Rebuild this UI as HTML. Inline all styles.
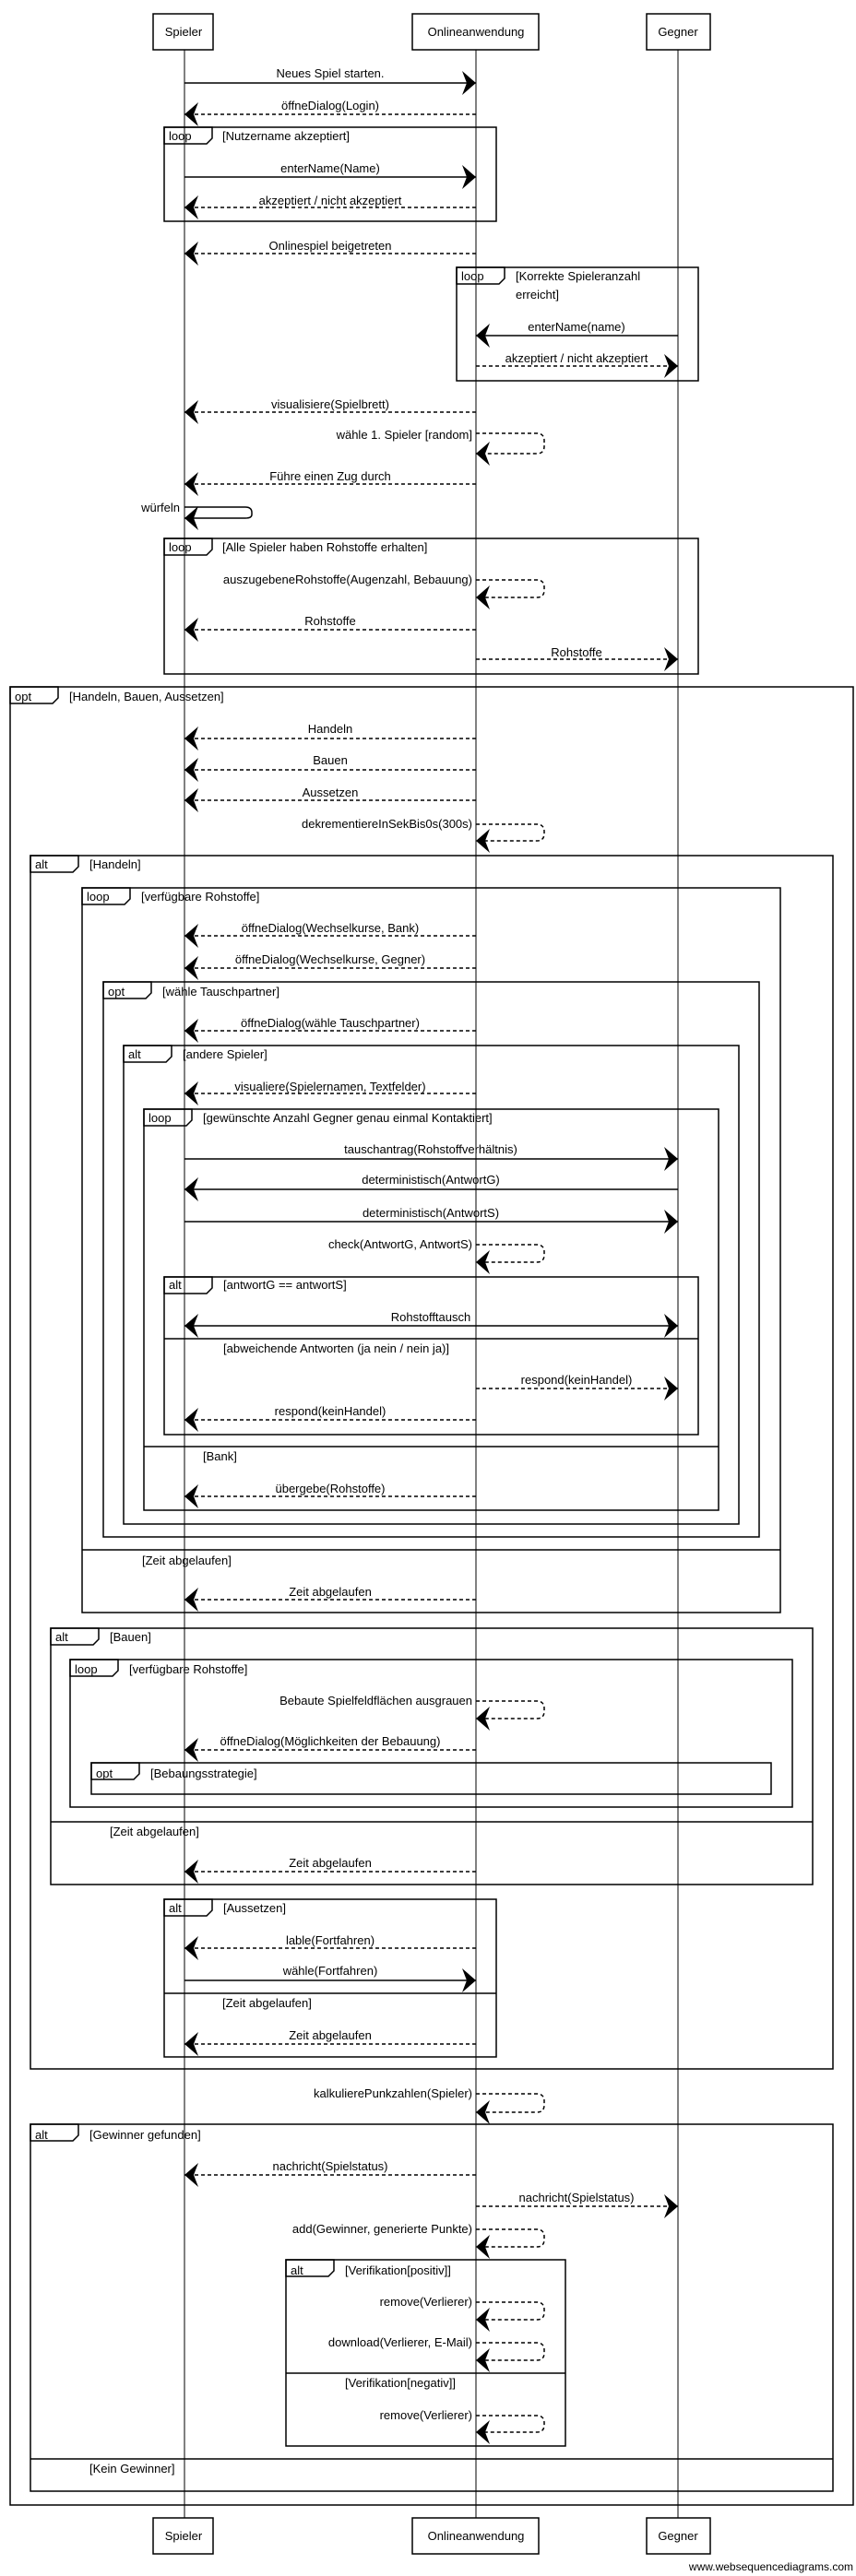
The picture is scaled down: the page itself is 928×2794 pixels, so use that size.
<!DOCTYPE html>
<html><head><meta charset="utf-8"><style>
html,body{margin:0;padding:0;background:#fff}
svg{display:block}
text{font-family:"Liberation Sans",Arial,sans-serif;font-size:13px;fill:#000}
.m{text-anchor:middle}.e{text-anchor:end}
.f{fill:none;stroke:#000;stroke-width:1.5}
.l{stroke:#000;stroke-width:1.5;fill:none}
.d{stroke:#000;stroke-width:1.5;fill:none;stroke-dasharray:4,3}
.ll{stroke:#000;stroke-width:1}
</style></head><body>
<svg width="928" height="2794" viewBox="0 0 928 2794" xmlns="http://www.w3.org/2000/svg">
<defs>
<marker id="h" markerUnits="userSpaceOnUse" viewBox="-18 -14 20 28" refX="0" refY="0" markerWidth="20" markerHeight="28" orient="auto-start-reverse">
<path d="M0,0 L-15,-13 L-10,0 L-15,13 Z" fill="#000"/>
</marker>
</defs>
<!-- lifelines -->
<line class="ll" x1="200" y1="54" x2="200" y2="2731"/>
<line class="ll" x1="516" y1="54" x2="516" y2="2731"/>
<line class="ll" x1="735" y1="54" x2="735" y2="2731"/>
<!-- heads -->
<rect class="f" x="166" y="15" width="65" height="39" fill="#fff"/><text class="m" x="199" y="39">Spieler</text>
<rect class="f" x="447" y="15" width="137" height="39" fill="#fff"/><text class="m" x="516" y="39">Onlineanwendung</text>
<rect class="f" x="701" y="15" width="69" height="39" fill="#fff"/><text class="m" x="735" y="39">Gegner</text>
<rect class="f" x="166" y="2731" width="65" height="39" fill="#fff"/><text class="m" x="199" y="2755">Spieler</text>
<rect class="f" x="447" y="2731" width="137" height="39" fill="#fff"/><text class="m" x="516" y="2755">Onlineanwendung</text>
<rect class="f" x="701" y="2731" width="69" height="39" fill="#fff"/><text class="m" x="735" y="2755">Gegner</text>
<text class="e" x="925" y="2788" style="font-size:12px">www.websequencediagrams.com</text>

<!-- frames -->
<g>
<rect class="f" x="178" y="138" width="360" height="102"/><path class="f" d="M178,138h52v12l-6,6h-46z"/><text x="183" y="152">loop</text><text x="241" y="152">[Nutzername akzeptiert]</text>
<rect class="f" x="495" y="290" width="262" height="123"/><path class="f" d="M495,290h52v12l-6,6h-46z"/><text x="500" y="304">loop</text><text x="559" y="304">[Korrekte Spieleranzahl</text><text x="559" y="324">erreicht]</text>
<rect class="f" x="178" y="584" width="579" height="147"/><path class="f" d="M178,584h52v12l-6,6h-46z"/><text x="183" y="598">loop</text><text x="241" y="598">[Alle Spieler haben Rohstoffe erhalten]</text>
<rect class="f" x="11" y="745" width="914" height="1972"/><path class="f" d="M11,745h52v12l-6,6h-46z"/><text x="16" y="760">opt</text><text x="75" y="760">[Handeln, Bauen, Aussetzen]</text>
<rect class="f" x="33" y="928" width="870" height="1316"/><path class="f" d="M33,928h52v12l-6,6h-46z"/><text x="38" y="942">alt</text><text x="97" y="942">[Handeln]</text>
<rect class="f" x="89" y="963" width="757" height="786"/><path class="f" d="M89,963h52v12l-6,6h-46z"/><text x="94" y="977">loop</text><text x="153" y="977">[verfügbare Rohstoffe]</text>
<line class="l" x1="89" y1="1681" x2="846" y2="1681"/><text x="154" y="1697">[Zeit abgelaufen]</text>
<rect class="f" x="112" y="1065" width="711" height="602"/><path class="f" d="M112,1065h52v12l-6,6h-46z"/><text x="117" y="1080">opt</text><text x="176" y="1080">[wähle Tauschpartner]</text>
<rect class="f" x="134" y="1134" width="667" height="519"/><path class="f" d="M134,1134h52v12l-6,6h-46z"/><text x="139" y="1148">alt</text><text x="198" y="1148">[andere Spieler]</text>
<rect class="f" x="156" y="1203" width="623" height="435"/><path class="f" d="M156,1203h52v12l-6,6h-46z"/><text x="161" y="1217">loop</text><text x="220" y="1217">[gewünschte Anzahl Gegner genau einmal Kontaktiert]</text>
<line class="l" x1="156" y1="1569" x2="779" y2="1569"/><text x="220" y="1584">[Bank]</text>
<rect class="f" x="178" y="1385" width="579" height="171"/><path class="f" d="M178,1385h52v12l-6,6h-46z"/><text x="183" y="1398">alt</text><text x="242" y="1398">[antwortG == antwortS]</text>
<line class="l" x1="178" y1="1452" x2="757" y2="1452"/><text x="242" y="1467">[abweichende Antworten (ja nein / nein ja)]</text>
<rect class="f" x="55" y="1766" width="826" height="278"/><path class="f" d="M55,1766h52v12l-6,6h-46z"/><text x="60" y="1780">alt</text><text x="119" y="1780">[Bauen]</text>
<line class="l" x1="55" y1="1976" x2="881" y2="1976"/><text x="119" y="1991">[Zeit abgelaufen]</text>
<rect class="f" x="76" y="1800" width="783" height="160"/><path class="f" d="M76,1800h52v12l-6,6h-46z"/><text x="81" y="1815">loop</text><text x="140" y="1815">[verfügbare Rohstoffe]</text>
<rect class="f" x="99" y="1912" width="737" height="34"/><path class="f" d="M99,1912h52v12l-6,6h-46z"/><text x="104" y="1928">opt</text><text x="163" y="1928">[Bebaungsstrategie]</text>
<rect class="f" x="178" y="2060" width="360" height="171"/><path class="f" d="M178,2060h52v12l-6,6h-46z"/><text x="183" y="2074">alt</text><text x="242" y="2074">[Aussetzen]</text>
<line class="l" x1="178" y1="2162" x2="538" y2="2162"/><text x="241" y="2177">[Zeit abgelaufen]</text>
<rect class="f" x="33" y="2304" width="870" height="398"/><path class="f" d="M33,2304h52v12l-6,6h-46z"/><text x="38" y="2320">alt</text><text x="97" y="2320">[Gewinner gefunden]</text>
<line class="l" x1="33" y1="2667" x2="903" y2="2667"/><text x="97" y="2682">[Kein Gewinner]</text>
<rect class="f" x="310" y="2451" width="303" height="202"/><path class="f" d="M310,2451h52v12l-6,6h-46z"/><text x="315" y="2467">alt</text><text x="374" y="2467">[Verifikation[positiv]]</text>
<line class="l" x1="310" y1="2574" x2="613" y2="2574"/><text x="374" y="2589">[Verifikation[negativ]]</text>
</g>

<!-- messages -->
<line class="l" x1="200" y1="90" x2="516" y2="90" marker-end="url(#h)"/><text class="m" x="358" y="84">Neues Spiel starten.</text>
<line class="d" x1="516" y1="124" x2="200" y2="124" marker-end="url(#h)"/><text class="m" x="358" y="119">öffneDialog(Login)</text>
<line class="l" x1="200" y1="192" x2="516" y2="192" marker-end="url(#h)"/><text class="m" x="358" y="187">enterName(Name)</text>
<line class="d" x1="516" y1="225" x2="200" y2="225" marker-end="url(#h)"/><text class="m" x="358" y="222">akzeptiert / nicht akzeptiert</text>
<line class="d" x1="516" y1="275" x2="200" y2="275" marker-end="url(#h)"/><text class="m" x="358" y="271">Onlinespiel beigetreten</text>
<line class="l" x1="735" y1="364" x2="516" y2="364" marker-end="url(#h)"/><text class="m" x="625" y="359">enterName(name)</text>
<line class="d" x1="516" y1="397" x2="735" y2="397" marker-end="url(#h)"/><text class="m" x="625" y="393">akzeptiert / nicht akzeptiert</text>
<line class="d" x1="516" y1="447" x2="200" y2="447" marker-end="url(#h)"/><text class="m" x="358" y="443">visualisiere(Spielbrett)</text>
<path class="d" d="M516,470 H582 Q590,470 590,478 V484 Q590,492 582,492 H516" marker-end="url(#h)"/><text class="e" x="512" y="476">wähle 1. Spieler [random]</text>
<line class="d" x1="516" y1="525" x2="200" y2="525" marker-end="url(#h)"/><text class="m" x="358" y="521">Führe einen Zug durch</text>
<path class="l" d="M200,550 H266 Q273,550 273,556 V558 Q273,562 266,562 H200" marker-end="url(#h)"/><text class="e" x="195" y="555">würfeln</text>
<path class="d" d="M516,629 H582 Q590,629 590,637 V640 Q590,648 582,648 H516" marker-end="url(#h)"/><text class="e" x="512" y="633">auszugebeneRohstoffe(Augenzahl, Bebauung)</text>
<line class="d" x1="516" y1="683" x2="200" y2="683" marker-end="url(#h)"/><text class="m" x="358" y="678">Rohstoffe</text>
<line class="d" x1="516" y1="715" x2="735" y2="715" marker-end="url(#h)"/><text class="m" x="625" y="712">Rohstoffe</text>
<line class="d" x1="516" y1="801" x2="200" y2="801" marker-end="url(#h)"/><text class="m" x="358" y="795">Handeln</text>
<line class="d" x1="516" y1="835" x2="200" y2="835" marker-end="url(#h)"/><text class="m" x="358" y="829">Bauen</text>
<line class="d" x1="516" y1="868" x2="200" y2="868" marker-end="url(#h)"/><text class="m" x="358" y="864">Aussetzen</text>
<path class="d" d="M516,894 H582 Q590,894 590,902 V904 Q590,912 582,912 H516" marker-end="url(#h)"/><text class="e" x="512" y="898">dekrementiereInSekBis0s(300s)</text>
<line class="d" x1="516" y1="1015" x2="200" y2="1015" marker-end="url(#h)"/><text class="m" x="358" y="1011">öffneDialog(Wechselkurse, Bank)</text>
<line class="d" x1="516" y1="1050" x2="200" y2="1050" marker-end="url(#h)"/><text class="m" x="358" y="1045">öffneDialog(Wechselkurse, Gegner)</text>
<line class="d" x1="516" y1="1118" x2="200" y2="1118" marker-end="url(#h)"/><text class="m" x="358" y="1114">öffneDialog(wähle Tauschpartner)</text>
<line class="d" x1="516" y1="1186" x2="200" y2="1186" marker-end="url(#h)"/><text class="m" x="358" y="1183">visualiere(Spielernamen, Textfelder)</text>
<line class="l" x1="200" y1="1257" x2="735" y2="1257" marker-end="url(#h)"/><text class="m" x="467" y="1251">tauschantrag(Rohstoffverhältnis)</text>
<line class="l" x1="735" y1="1290" x2="200" y2="1290" marker-end="url(#h)"/><text class="m" x="467" y="1284">deterministisch(AntwortG)</text>
<line class="l" x1="200" y1="1325" x2="735" y2="1325" marker-end="url(#h)"/><text class="m" x="467" y="1320">deterministisch(AntwortS)</text>
<path class="d" d="M516,1350 H582 Q590,1350 590,1358 V1361 Q590,1369 582,1369 H516" marker-end="url(#h)"/><text class="e" x="512" y="1354">check(AntwortG, AntwortS)</text>
<line class="l" x1="200" y1="1438" x2="735" y2="1438" marker-start="url(#h)" marker-end="url(#h)"/><text class="m" x="467" y="1433">Rohstofftausch</text>
<line class="d" x1="516" y1="1506" x2="735" y2="1506" marker-end="url(#h)"/><text class="m" x="625" y="1501">respond(keinHandel)</text>
<line class="d" x1="516" y1="1540" x2="200" y2="1540" marker-end="url(#h)"/><text class="m" x="358" y="1535">respond(keinHandel)</text>
<line class="d" x1="516" y1="1623" x2="200" y2="1623" marker-end="url(#h)"/><text class="m" x="358" y="1619">übergebe(Rohstoffe)</text>
<line class="d" x1="516" y1="1735" x2="200" y2="1735" marker-end="url(#h)"/><text class="m" x="358" y="1731">Zeit abgelaufen</text>
<path class="d" d="M516,1845 H582 Q590,1845 590,1853 V1856 Q590,1864 582,1864 H516" marker-end="url(#h)"/><text class="e" x="512" y="1849">Bebaute Spielfeldflächen ausgrauen</text>
<line class="d" x1="516" y1="1898" x2="200" y2="1898" marker-end="url(#h)"/><text class="m" x="358" y="1893">öffneDialog(Möglichkeiten der Bebauung)</text>
<line class="d" x1="516" y1="2030" x2="200" y2="2030" marker-end="url(#h)"/><text class="m" x="358" y="2025">Zeit abgelaufen</text>
<line class="d" x1="516" y1="2113" x2="200" y2="2113" marker-end="url(#h)"/><text class="m" x="358" y="2109">lable(Fortfahren)</text>
<line class="l" x1="200" y1="2148" x2="516" y2="2148" marker-end="url(#h)"/><text class="m" x="358" y="2142">wähle(Fortfahren)</text>
<line class="d" x1="516" y1="2217" x2="200" y2="2217" marker-end="url(#h)"/><text class="m" x="358" y="2212">Zeit abgelaufen</text>
<path class="d" d="M516,2271 H582 Q590,2271 590,2279 V2283 Q590,2291 582,2291 H516" marker-end="url(#h)"/><text class="e" x="512" y="2275">kalkulierePunkzahlen(Spieler)</text>
<line class="d" x1="516" y1="2359" x2="200" y2="2359" marker-end="url(#h)"/><text class="m" x="358" y="2354">nachricht(Spielstatus)</text>
<line class="d" x1="516" y1="2393" x2="735" y2="2393" marker-end="url(#h)"/><text class="m" x="625" y="2388">nachricht(Spielstatus)</text>
<path class="d" d="M516,2418 H582 Q590,2418 590,2426 V2429 Q590,2437 582,2437 H516" marker-end="url(#h)"/><text class="e" x="512" y="2422">add(Gewinner, generierte Punkte)</text>
<path class="d" d="M516,2497 H582 Q590,2497 590,2505 V2508 Q590,2516 582,2516 H516" marker-end="url(#h)"/><text class="e" x="512" y="2501">remove(Verlierer)</text>
<path class="d" d="M516,2541 H582 Q590,2541 590,2549 V2552 Q590,2560 582,2560 H516" marker-end="url(#h)"/><text class="e" x="512" y="2545">download(Verlierer, E-Mail)</text>
<path class="d" d="M516,2620 H582 Q590,2620 590,2628 V2630 Q590,2638 582,2638 H516" marker-end="url(#h)"/><text class="e" x="512" y="2624">remove(Verlierer)</text>
</svg>
</body></html>
